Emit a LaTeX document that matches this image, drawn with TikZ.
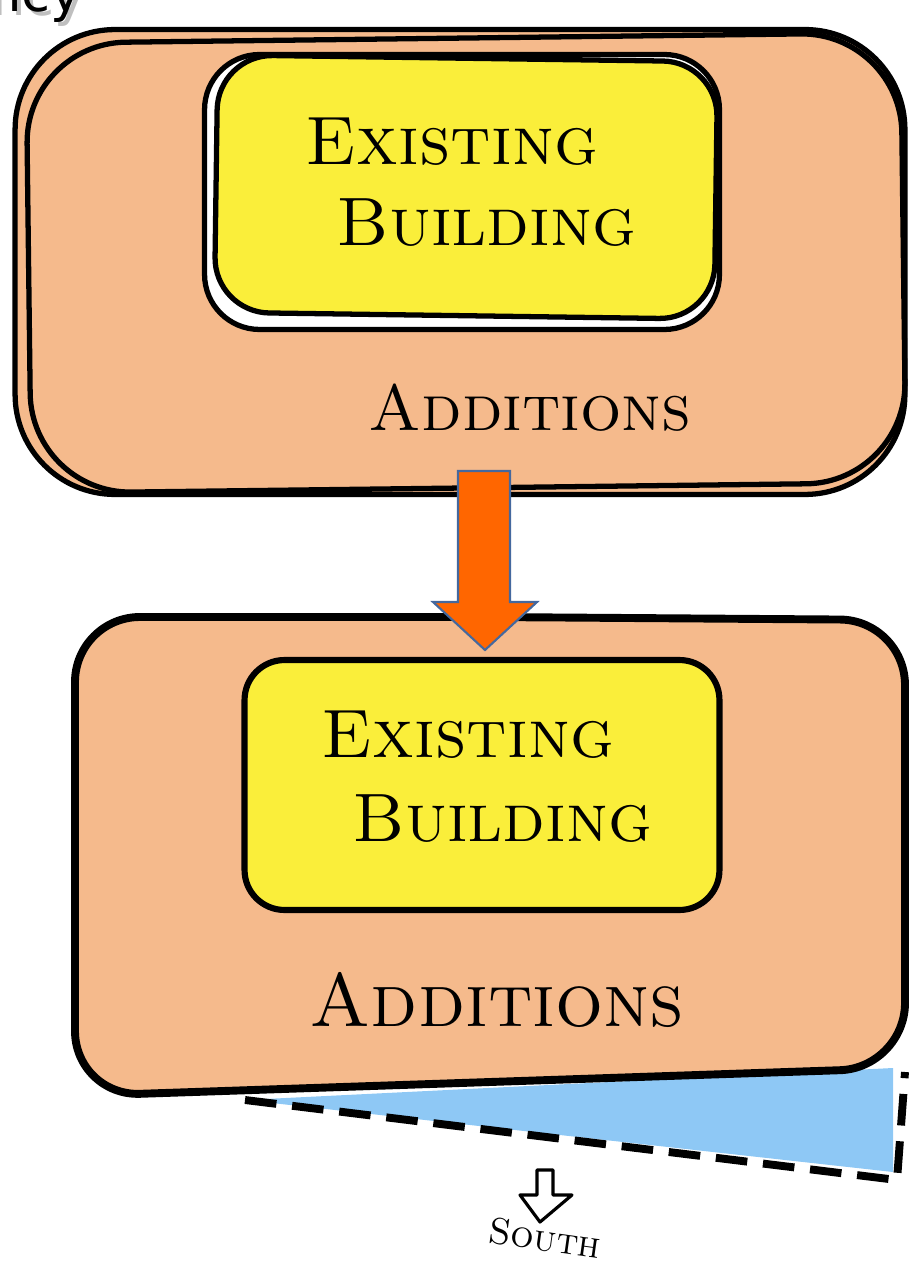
\documentclass[tikz,border=0pt]{standalone}
\usepackage{fontspec}
\newfontfamily\headfont{DejaVu Sans}
\usetikzlibrary{positioning,calc}

\definecolor{peach}{RGB}{245,186,140}
\definecolor{marker}{RGB}{250,238,58}
\definecolor{sky}{RGB}{142,200,245}
\definecolor{flame}{RGB}{255,102,0}
\definecolor{steel}{RGB}{68,104,158}

\tikzset{
  addition/.style={
    rectangle,
    draw=black, line width=3pt,
    fill=peach,
    rounded corners=2cm},
  existing/.style={
    rectangle,
    draw=black, line width=3pt,
    fill=marker,
    rounded corners=1.1cm},
  label/.style={
    font=\fontsize{39}{50}\selectfont\scshape,
    align=center},
  flow/.style={draw=steel, line width=1.2pt, fill=flame},
  south/.style={draw=black, line width=1.8pt, fill=white, line join=round},
}

\begin{document}
\begin{tikzpicture}[x=0.02cm, y=-0.02cm]
\useasboundingbox (0,0) rectangle (919,1266);

% heading cut off by the page edge (grey shadow behind)
\node[anchor=base east, font=\headfont\fontsize{30}{36}\selectfont, inner sep=0pt]
  (head) at (82,12) {\rlap{\hspace{2.5pt}\raisebox{-2pt}{\color{black!25}ncy}}ncy};

% before: sketched twice over
\node[addition, minimum width=17.8cm, minimum height=9.3cm] (before) at (460,262) {};
\node[addition, fill=none, minimum width=17.5cm, minimum height=9.0cm, rotate=0.7] (before2) at (466,263) {};
\node[existing, fill=white, minimum width=10.3cm, minimum height=5.5cm] (old) at (462,192) {};
\node[existing, minimum width=10.0cm, minimum height=5.15cm, rotate=-0.8] (old2) at (466,187) {};
\node[label] (oldtxt) at (452,182) {Existing\\[-4pt]\hspace{1em}Building};
\node[label, font=\fontsize{37}{50}\selectfont\scshape] (addtxt) at (530,408) {Additions};

% after: extended to the south
\coordinate (sw) at (245,1100);
\coordinate (se) at (893,1068);
\coordinate (dash) at (897,1180);
\fill[sky] (sw) -- (se) -- (893,1172) -- cycle;
\draw[black, line width=4.5pt, dash pattern=on 18pt off 9pt] (sw) -- (dash) -- (905,1072);

\draw[black, line width=4.5pt, fill=peach, rounded corners=1.3cm]
  (490,617) -- (905,620) -- (905,1068) -- (75,1096) -- (75,617) -- cycle;
\node[existing, line width=3.5pt, minimum width=9.5cm, minimum height=5.0cm, rounded corners=0.8cm] (new) at (482,785) {};
\node[label] (newtxt) at (468,777) {Existing\\[-2pt]\hspace{1em}Building};
\node[label, font=\fontsize{43}{50}\selectfont\scshape] (newadd) at (497,1000) {Additions};

% the change
\draw[flow] (458,471) -- (510,471) -- (510,602) -- (537,602) -- (485,650)
  -- (433,602) -- (458,602) -- cycle;

% orientation
\draw[south] (537,1170) -- (553,1170) -- (553,1195) -- (572,1195) -- (540,1222)
  -- (520,1195) -- (537,1195) -- cycle;
\node[font=\fontsize{21}{24}\selectfont\scshape, rotate=-8, inner sep=1pt] (southtxt) at (545,1238) {South};
\end{tikzpicture}
\end{document}
